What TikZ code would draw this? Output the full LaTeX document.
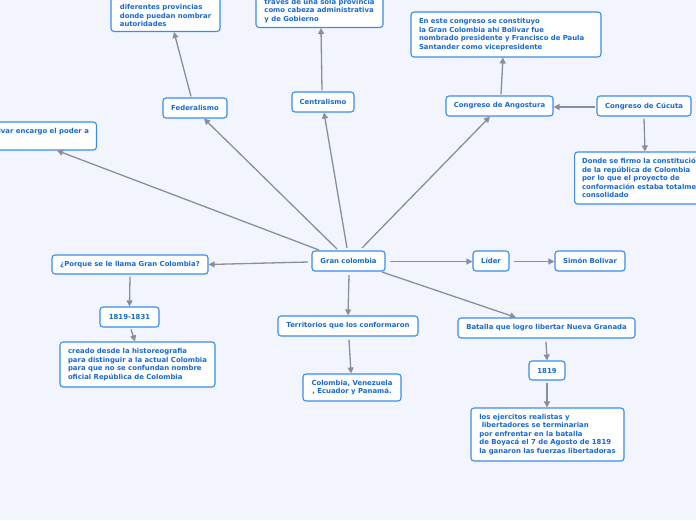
\documentclass[tikz,border=0pt]{standalone}
\usepackage{fontspec}
\setmainfont{DejaVu Sans}
\usetikzlibrary{arrows.meta,calc}
\definecolor{bgc}{HTML}{F2F5FD}
\definecolor{boxc}{HTML}{3A8CEB}
\definecolor{txtc}{HTML}{1869CF}
\definecolor{linec}{HTML}{8A8E98}
\tikzset{
  box/.style={draw=boxc, fill=white, rounded corners=3pt, line width=1.1pt, text=txtc,
    font=\bfseries\fontsize{6.9}{8.5}\selectfont, inner xsep=7.5pt, inner ysep=3pt, align=left},
  one/.style={box, minimum height=20pt},
  conn/.style={draw=linec, line width=1.3pt, -{Triangle[length=6pt,width=6pt]}}
}
\begin{document}
\begin{tikzpicture}[x=1pt,y=-1pt]
\useasboundingbox (0,0) rectangle (696,520);
\fill[bgc] (0,0) rectangle (696,520);

% nodes
\node[box, anchor=south, minimum width=109pt, inner ysep=4.5pt] (n1) at (165.5,32)
  {\strut\\\strut\\diferentes provincias\\donde puedan nombrar\\autoridades};
\node[box, anchor=south, minimum width=127pt, inner ysep=4.5pt] (n2) at (319.5,28)
  {\strut\\\strut\\traves de una sola provincia\\como cabeza administrativa\\y de Gobierno};
\node[box, inner xsep=8pt, text width=174pt, minimum height=45pt] (n3) at (506,34.5)
  {En este congreso se constituyo\\la Gran Colombia ahí Bolivar fue\\nombrado presidente y Francisco de Paula\\Santander como vicepresidente};
\node[box, anchor=west, minimum height=52pt] (n4) at (574,178)
  {Donde se firmo la constitución\\de la república de Colombia\\por lo que el proyecto de\\conformación estaba totalmente\\consolidado};
\node[box, anchor=east, minimum height=28pt] (n5) at (97,136)
  {Simón Bolivar encargo el poder a\\\strut};

\node[one, minimum width=64pt] (fed) at (195,108) {Federalismo};
\node[one, minimum width=62pt] (cen) at (323,102) {Centralismo};
\node[one, minimum width=107pt] (ang) at (499.5,106) {Congreso de Angostura};
\node[one, minimum width=94pt] (cuc) at (644,106) {Congreso de Cúcuta};
\node[one, minimum width=73pt] (gc) at (348.5,261) {Gran colombia};
\node[one, minimum width=36pt] (lid) at (491,261) {Líder};
\node[one, minimum width=70pt] (sb) at (590,261) {Simón Bolivar};
\node[one, minimum width=156pt, minimum height=19pt] (por) at (130,264.5) {¿Porque se le llama Gran Colombia?};
\node[one, minimum width=59pt] (y1) at (129.5,317) {1819-1831};
\node[box, minimum width=155pt, minimum height=45pt] (cre) at (137.5,364.5)
  {creado desde la historeografia\\para distinguir a la actual Colombia\\para que no se confundan nombre\\oficial República de Colombia};
\node[one, minimum width=140pt] (ter) at (348,326) {Territorios que los conformaron};
\node[box, align=center, minimum width=98pt, minimum height=27pt] (col) at (352,387.5)
  {Colombia, Venezuela\\, Ecuador y Panamá.};
\node[one, minimum width=177pt] (bat) at (546.5,328) {Batalla que logro libertar Nueva Granada};
\node[one, minimum width=36pt, minimum height=19pt] (y2) at (547,370.5) {1819};
\node[box, minimum width=153pt, minimum height=53pt] (eje) at (547.5,434.5)
  {los ejercitos realistas y\\\ libertadores se terminarian\\por enfrentar en la batalla\\de Boyacá el 7 de Agosto de 1819\\la ganaron las fuerzas libertadoras};

% connectors
\draw[conn] ($(gc.center)+(-29.5,-11)$) -- ($(n5.south east)+(-40,0)$);
\draw[conn] ($(gc.center)+(-11.5,-12)$) -- ($(fed.south)+(9,0)$);
\draw[conn] ($(gc.center)+(-1.5,-13)$) -- ($(cen.south)+(1,0)$);
\draw[conn] ($(gc.center)+(13.5,-13)$) -- ($(ang.south)+(-9.5,0)$);
\draw[conn] ($(gc.center)+(-40.5,1)$) -- (por.east);
\draw[conn] ($(gc.center)+(41.5,0.5)$) -- ($(lid.west)+(0,0.5)$);
\draw[conn] ($(gc.center)+(0.5,14)$) -- (ter.north);
\draw[conn] ($(gc.center)+(33.5,11)$) -- ($(bat.north)+(-30.5,0)$);
\draw[conn] ($(fed.north)+(-4,-1)$) -- ($(n1.south)+(8.5,0)$);
\draw[conn] ($(cen.north)+(-1,-1)$) -- ($(n2.south)+(1.5,0)$);
\draw[conn] ($(ang.north)+(1.5,-1)$) -- ($(n3.south)+(-3,0)$);
\draw[conn] ($(cuc.west)+(-1,1)$) -- ($(ang.east)+(0,1)$);
\draw[conn] ($(cuc.south)+(0,2)$) -- ($(n4.north west)+(71,0)$);
\draw[conn] ($(por.south)+(0,2)$) -- (y1.north);
\draw[conn] ($(y1.south)+(1.5,2)$) -- ($(cre.north)+(-2.5,0)$);
\draw[conn] ($(ter.south)+(1,3)$) -- ($(col.north)+(-1,0)$);
\draw[conn] ($(bat.south)+(-0.5,3)$) -- (y2.north);
\draw[conn] ($(y2.south)+(0,2.5)$) -- ($(eje.north)+(-0.5,0)$);
\draw[conn] ($(lid.east)+(4,0.5)$) -- ($(sb.west)+(0,0.5)$);
\end{tikzpicture}
\end{document}
